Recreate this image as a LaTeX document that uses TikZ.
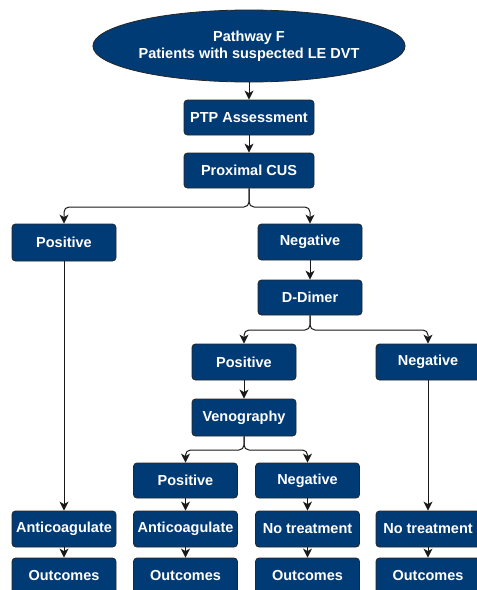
\documentclass[tikz,border=0pt]{standalone}
\usepackage{fontspec}
\setmainfont{Liberation Sans}
\usetikzlibrary{shapes.geometric,arrows.meta}
\definecolor{navy}{RGB}{0,59,118}
\tikzset{
  box/.style={rectangle, rounded corners=3.5pt, fill=navy, draw=black!85, line width=0.8pt,
    text=white, font=\fontsize{14.5}{16.5}\selectfont\bfseries, minimum width=104pt,
    minimum height=36pt, inner sep=0pt, align=center},
  arr/.style={draw=black!90, line width=1pt, -{Stealth[length=9pt,width=9pt,inset=2.5pt]}},
}
\begin{document}
\begin{tikzpicture}[x=1pt,y=-1pt]
\useasboundingbox (0,0) rectangle (477,590);
\node[box, ellipse, minimum width=262pt, minimum height=72pt] (start) at (249,46) {Pathway F\\Patients with suspected LE DVT};
\node[box, minimum width=130pt, minimum height=35pt] (ptp) at (249,117.5) {PTP Assessment};
\node[box, minimum width=130pt, minimum height=35pt] (cus) at (249,170.5) {Proximal CUS};
\node[box, minimum height=37pt] (pos1) at (64,242.5) {Positive};
\node[box] (neg1) at (310,242) {Negative};
\node[box, minimum height=35pt] (dd) at (310,297.5) {D-Dimer};
\node[box] (pos2) at (244,362) {Positive};
\node[box] (neg2) at (428,362) {Negative};
\node[box, minimum height=37pt] (ven) at (244,417.5) {Venography};
\node[box, minimum height=35pt] (pos3) at (185.5,480.5) {Positive};
\node[box, minimum height=35pt] (neg3) at (307.5,480.5) {Negative};
\node[box] (ac1) at (64,529) {Anticoagulate};
\node[box] (ac2) at (185.5,529) {Anticoagulate};
\node[box] (nt1) at (307.5,529) {No treatment};
\node[box] (nt2) at (428,529) {No treatment};
\node[box] (out1) at (64,576) {Outcomes};
\node[box] (out2) at (185.5,576) {Outcomes};
\node[box] (out3) at (307.5,576) {Outcomes};
\node[box] (out4) at (428,576) {Outcomes};
\coordinate (b1) at (249,207);
\coordinate (b2) at (310,330);
\coordinate (b3) at (244,450);
\draw[arr] (start) -- (ptp);
\draw[arr] (ptp) -- (cus);
\draw[arr, rounded corners=5pt] (cus.south) -- (b1) -| (pos1.north);
\draw[arr, rounded corners=5pt] (cus.south) -- (b1) -| (neg1.north);
\draw[arr] (neg1) -- (dd);
\draw[arr, rounded corners=5pt] (dd.south) -- (b2) -| (pos2.north);
\draw[arr, rounded corners=5pt] (dd.south) -- (b2) -| (neg2.north);
\draw[arr] (pos2) -- (ven);
\draw[arr, rounded corners=5pt] (ven.south) -- (b3) -| (pos3.north);
\draw[arr, rounded corners=5pt] (ven.south) -- (b3) -| (neg3.north);
\draw[arr] (pos1) -- (ac1);
\draw[arr] (pos3) -- (ac2);
\draw[arr] (neg3) -- (nt1);
\draw[arr] (neg2) -- (nt2);
\draw[arr] (ac1) -- (out1);
\draw[arr] (ac2) -- (out2);
\draw[arr] (nt1) -- (out3);
\draw[arr] (nt2) -- (out4);
\end{tikzpicture}
\end{document}
